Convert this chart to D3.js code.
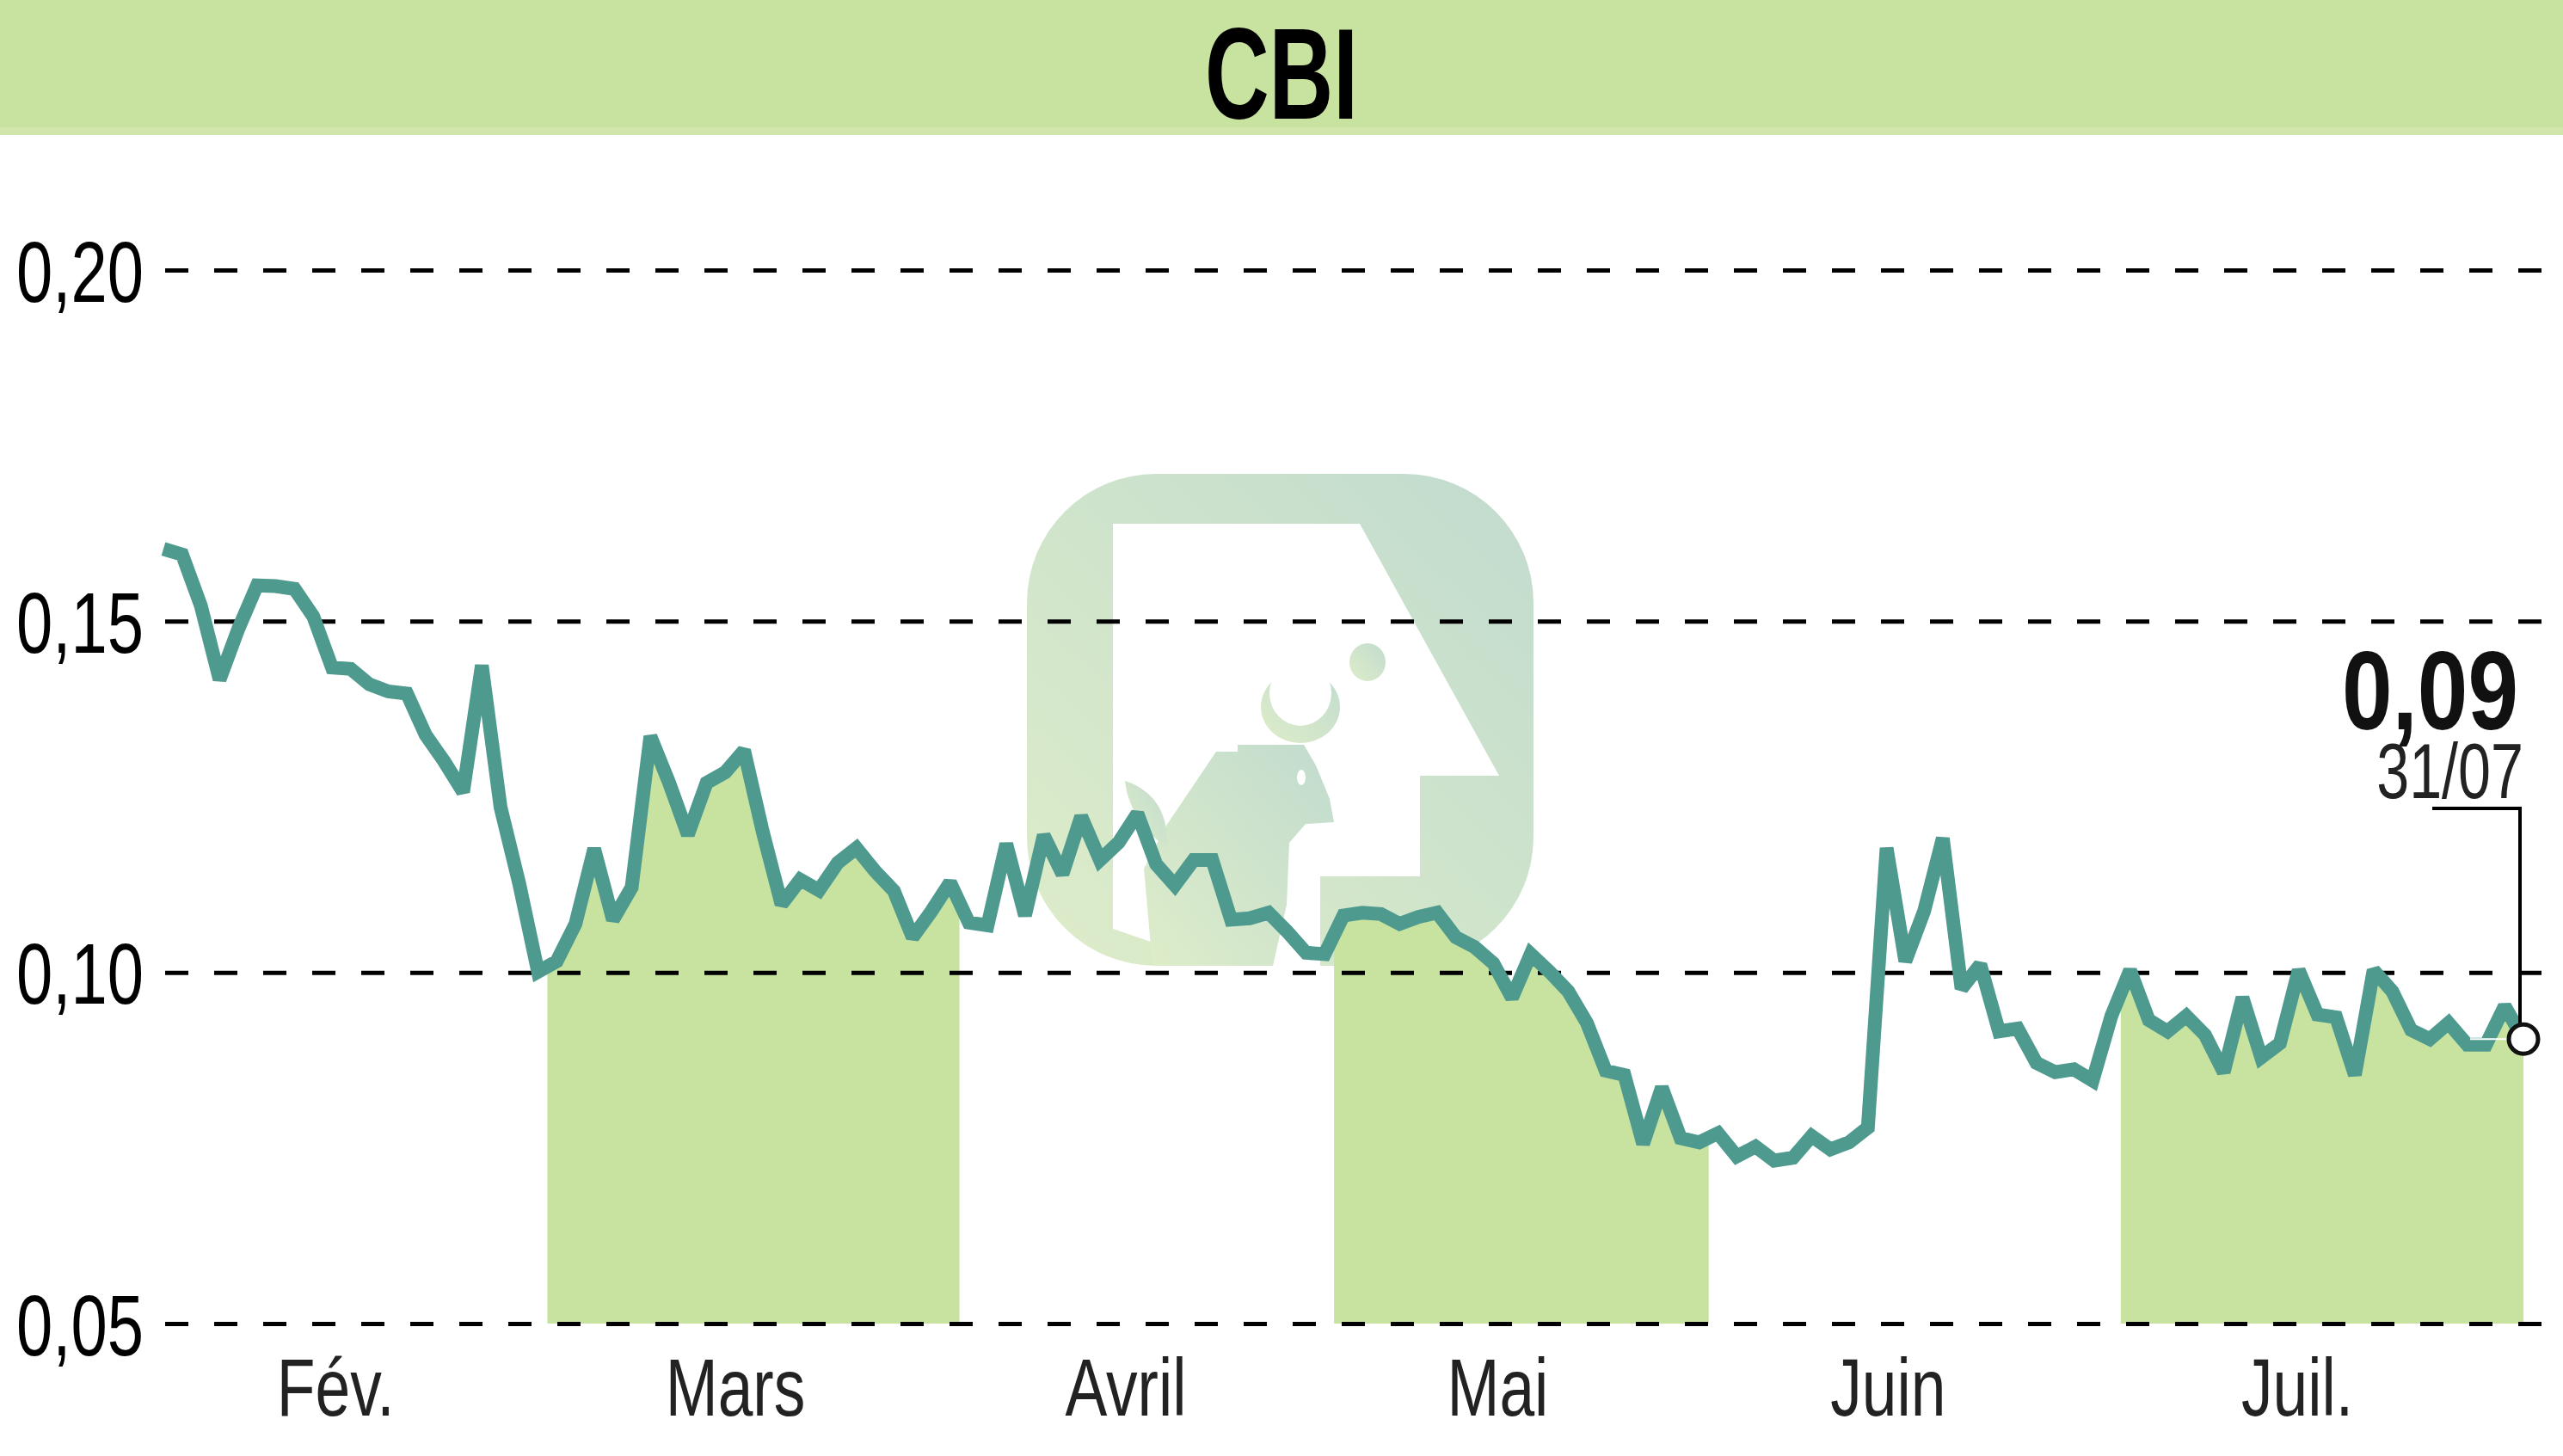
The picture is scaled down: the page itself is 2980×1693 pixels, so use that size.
<!DOCTYPE html>
<html>
<head>
<meta charset="utf-8">
<script src="https://cdn.jsdelivr.net/npm/d3@7"></script>
<style>
  body { margin: 0; background: #fff; }
  svg { display: block; }
  text { font-family: 'Liberation Sans', Arial, sans-serif; }
</style>
</head>
<body>
<svg id="chart"></svg>
<script>
// chart data
const title = 'CBI'
const prices = [
  0.1603, 0.1595, 0.1522, 0.1417, 0.1489, 0.1551, 0.1550, 0.1546, 0.1507, 0.1434,
  0.1432, 0.1410, 0.1400, 0.1397, 0.1338, 0.1300, 0.1257, 0.1437, 0.1235, 0.1126,
  0.1001, 0.1016, 0.1069, 0.1176, 0.1075, 0.1121, 0.1336, 0.1270, 0.1196, 0.1270,
  0.1285, 0.1316, 0.1200, 0.1097, 0.1132, 0.1117, 0.1156, 0.1177, 0.1144, 0.1116,
  0.1050, 0.1087, 0.1128, 0.1071, 0.1067, 0.1183, 0.1081, 0.1195, 0.1140, 0.1222,
  0.1160, 0.1185, 0.1226, 0.1154, 0.1124, 0.1160, 0.1160, 0.1075, 0.1077, 0.1085,
  0.1058, 0.1028, 0.1026, 0.1081, 0.1085, 0.1083, 0.1069, 0.1079, 0.1085, 0.1050,
  0.1036, 0.1013, 0.0964, 0.1026, 0.1001, 0.0973, 0.0928, 0.0860, 0.0854, 0.0756,
  0.0836, 0.0764, 0.0758, 0.0771, 0.0738, 0.0752, 0.0732, 0.0736, 0.0767, 0.0748,
  0.0758, 0.0779, 0.1177, 0.1016, 0.1087, 0.1191, 0.0977, 0.1011, 0.0916, 0.0920,
  0.0871, 0.0858, 0.0862, 0.0846, 0.0938, 0.1003, 0.0932, 0.0916, 0.0938, 0.0911,
  0.0858, 0.0964, 0.0879, 0.0899, 0.1003, 0.0940, 0.0936, 0.0854, 0.1003, 0.0973,
  0.0918, 0.0905, 0.0928, 0.0897, 0.0897, 0.0952, 0.0905
]
const months = ['Fév.', 'Mars', 'Avril', 'Mai', 'Juin', 'Juil.']
const monthFirst = [0, 21, 43, 63, 83, 105]   // index of first trading day
const monthLast = [20, 42, 62, 82, 104, 126]  // index of last trading day
const shaded = [1, 3, 5]                      // months with green band
const yTicks = [0.05, 0.10, 0.15, 0.20]
const lastValue = '0,09'
const lastDate = '31/07'

const W = 2980, H = 1693
const green = '#c8e29f', teal = '#4e9a8e'

const svg = d3.select('#chart').attr('width', W).attr('height', H)
const defs = svg.append('defs')

const x = d3.scaleLinear().domain([0, prices.length - 1]).range([190, 2934])
const y = d3.scaleLinear().domain([0.05, 0.20]).range([1539, 314])
// month labels sit on a slightly tighter scale than the line
const xl = d3.scaleLinear().domain(x.domain()).range([174, 2898])

const fr = d3.formatLocale({decimal: ',', thousands: ' ', grouping: [3], currency: ['', '€']})
const fmt = fr.format('.2f')

// no condensed font installed -> squeeze text horizontally around its anchor
function condense(sel, sx) {
  sel.attr('transform', function () {
    const tx = +this.getAttribute('x') || 0, ty = +this.getAttribute('y') || 0
    return `translate(${tx},${ty}) scale(${sx},1) translate(${-tx},${-ty})`
  })
}

// title band
svg.append('rect').attr('x', 0).attr('y', 0).attr('width', W).attr('height', 157).attr('fill', '#d0e6ab')
svg.append('rect').attr('x', 0).attr('y', 0).attr('width', W).attr('height', 148).attr('fill', green)
svg.append('text')
  .attr('x', 1490).attr('y', 138)
  .attr('text-anchor', 'middle')
  .attr('font-size', 150).attr('font-weight', 'bold').attr('fill', '#000')
  .text(title)
  .call(condense, 0.69)

// faded logo in the background
const grad = defs.append('linearGradient').attr('id', 'wm').attr('x1', '0').attr('y1', '1').attr('x2', '1').attr('y2', '0')
grad.append('stop').attr('offset', '0').attr('stop-color', '#deedc9')
grad.append('stop').attr('offset', '1').attr('stop-color', '#c1dbce')
const wm = svg.append('g')
wm.append('rect').attr('x', 1194).attr('y', 551).attr('width', 589).attr('height', 572).attr('rx', 150).attr('fill', 'url(#wm)')
wm.append('path').attr('fill', '#fff')
  .attr('d', 'M1294,609 L1581,609 L1743,902 L1651,902 L1651,1019 L1535,1019 L1535,1123 L1420,1123 L1294,1080 Z')
// bull head and body
wm.append('path').attr('fill', 'url(#wm)')
  .attr('d', 'M1330,1010 L1356,960 L1414,874 L1439,874 L1439,866 L1516,866 L1530,890 L1546,929 L1551,956 L1518,958 L1499,980 L1496,1052 L1480,1123 L1340,1123 Z')
// horns
wm.append('ellipse').attr('cx', 1512).attr('cy', 822).attr('rx', 46).attr('ry', 42).attr('fill', 'url(#wm)')
wm.append('ellipse').attr('cx', 1512).attr('cy', 806).attr('rx', 36).attr('ry', 38).attr('fill', '#fff')
wm.append('ellipse').attr('cx', 1513).attr('cy', 904).attr('rx', 5).attr('ry', 9).attr('fill', '#fff')
wm.append('ellipse').attr('cx', 1590).attr('cy', 770).attr('rx', 21).attr('ry', 22).attr('fill', 'url(#wm)')
wm.append('path').attr('fill', 'url(#wm)')
  .attr('d', 'M1308,908 C1340,918 1360,945 1356,985 C1335,970 1312,945 1308,908 Z')

// green area under the line, only for shaded months
const area = d3.area()
  .x((d, i) => x(i))
  .y0(y(0.05))
  .y1(d => y(d))
shaded.forEach(m => {
  const x0 = x(Math.max(monthFirst[m] - 0.5, 0))
  const x1 = x(Math.min(monthLast[m] + 0.5, prices.length - 1))
  defs.append('clipPath').attr('id', 'clip' + m)
    .append('rect').attr('x', x0).attr('y', 0).attr('width', x1 - x0).attr('height', H)
  svg.append('path')
    .datum(prices)
    .attr('clip-path', `url(#clip${m})`)
    .attr('d', area)
    .attr('fill', green)
})

// y axis with dashed grid
const yAxis = svg.append('g').attr('transform', 'translate(192,0)')
yAxis.call(d3.axisLeft(y).tickValues(yTicks).tickSize(-(W - 192)).tickPadding(25).tickFormat(fmt))
yAxis.select('.domain').remove()
yAxis.selectAll('line').attr('stroke', '#000').attr('stroke-width', 5).attr('stroke-dasharray', '27,30')
yAxis.selectAll('text').attr('font-size', 100).attr('fill', '#000').attr('font-family', null)
  .attr('dy', null).attr('y', 36)
  .call(condense, 0.76)

// month labels
svg.append('g').selectAll('text')
  .data(months)
  .enter()
  .append('text')
  .attr('x', (d, i) => xl((monthFirst[i] + monthLast[i]) / 2))
  .attr('y', 1646)
  .attr('text-anchor', 'middle')
  .attr('font-size', 95)
  .attr('fill', '#222')
  .text(d => d)
  .call(condense, 0.77)

// price line
svg.append('path')
  .datum(prices)
  .attr('d', d3.line().x((d, i) => x(i)).y(d => y(d)))
  .attr('fill', 'none')
  .attr('stroke', teal)
  .attr('stroke-width', 16)
  .attr('stroke-linejoin', 'miter')
  .attr('stroke-miterlimit', 2)

// last value marker and callout
const n = prices.length - 1
const cx = x(n), cy = y(prices[n])
svg.append('line').attr('x1', cx - 62).attr('x2', cx - 16).attr('y1', cy).attr('y2', cy)
  .attr('stroke', '#fff').attr('stroke-width', 2)
svg.append('polyline')
  .attr('points', `${cx - 106},940 ${cx - 4},940 ${cx - 4},${cy - 17}`)
  .attr('fill', 'none').attr('stroke', '#000').attr('stroke-width', 4)
svg.append('circle').attr('cx', cx).attr('cy', cy).attr('r', 17)
  .attr('fill', '#fff').attr('stroke', '#111').attr('stroke-width', 5)
svg.append('text')
  .attr('x', cx - 6).attr('y', 848)
  .attr('text-anchor', 'end').attr('font-size', 130).attr('font-weight', 'bold').attr('fill', '#111')
  .text(lastValue)
  .call(condense, 0.81)
svg.append('text')
  .attr('x', cx).attr('y', 928)
  .attr('text-anchor', 'end').attr('font-size', 91).attr('fill', '#222')
  .text(lastDate)
  .call(condense, 0.75)
</script>
</body>
</html>
